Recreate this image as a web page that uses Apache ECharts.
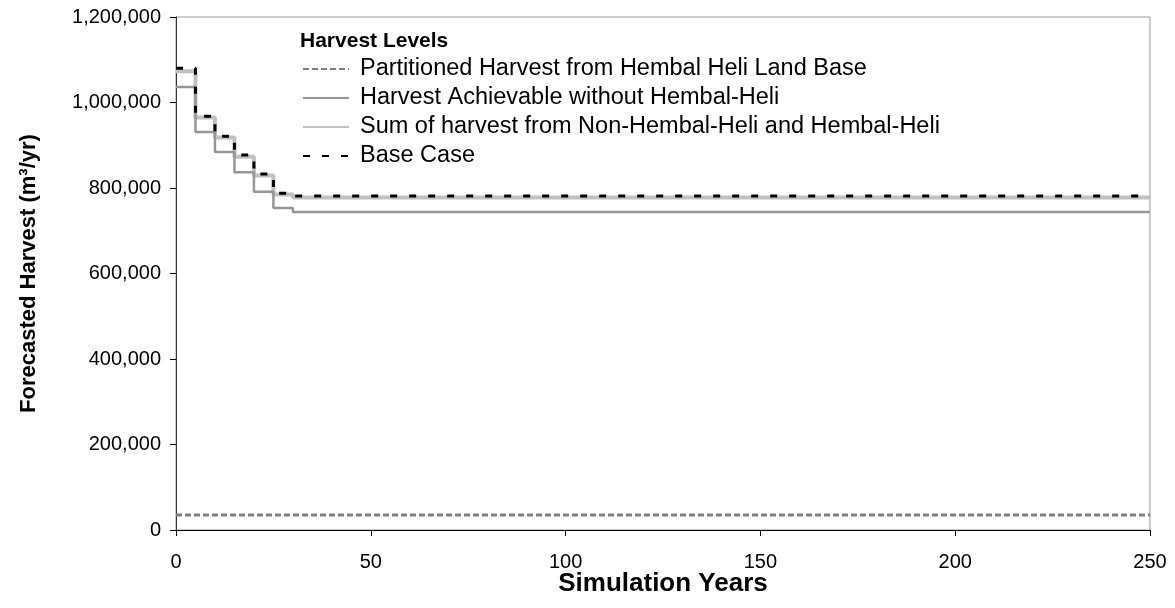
<!DOCTYPE html>
<html>
<head>
<meta charset="utf-8">
<script src="https://cdn.jsdelivr.net/npm/echarts@6/dist/echarts.min.js"></script>
<style>
html,body{margin:0;padding:0;background:#fff;}
#chart{width:1175px;height:608px;}
</style>
</head>
<body>
<div id="chart"></div>
<script>
// Simulation years at which the harvest level changes
const years = [0, 5, 10, 15, 20, 25, 30, 250];
// Harvest levels (m3/yr)
const partitioned = [35000, 35000, 35000, 35000, 35000, 35000, 35000, 35000];
const achievable = [1036000, 931000, 884000, 837000, 791000, 753000, 744000, 744000];
const sumHarvest = [1073000, 965000, 918000, 873000, 829000, 785000, 778000, 778000];
const baseCase = [1080000, 968000, 921000, 877000, 833000, 788000, 781000, 781000];
const seriesNames = [
  'Partitioned Harvest from Hembal Heli Land Base',
  'Harvest Achievable without Hembal-Heli',
  'Sum of harvest from Non-Hembal-Heli and Hembal-Heli',
  'Base Case'
];
const xTicks = [0, 50, 100, 150, 200, 250];
const yTicks = [0, 200000, 400000, 600000, 800000, 1000000, 1200000];

function pairs(vals){ return years.map((y,i)=>[y, vals[i]]); }
const FONT = '"Liberation Sans", Arial, sans-serif';

const chart = echarts.init(document.getElementById('chart'), null, {renderer:'canvas'});
chart.setOption({
  animation:false,
  backgroundColor:'#fff',
  title:{
    text:'Harvest Levels', left:295, top:26,
    textStyle:{fontFamily:FONT, fontWeight:'bold', fontSize:21, color:'#000'}
  },
  legend:{
    orient:'vertical', left:297, top:52,
    itemWidth:46, itemHeight:14, itemGap:5,
    data: seriesNames,
    itemStyle:{opacity:0, color:'rgba(0,0,0,0)', borderWidth:0},
    textStyle:{fontFamily:FONT, fontSize:23.5, lineHeight:24, color:'#000', padding:[0,0,0,6]}
  },
  grid:{left:176, right:25, top:17, bottom:78, show:true, borderColor:'#999', borderWidth:1},
  xAxis:{
    type:'value', min:xTicks[0], max:xTicks[xTicks.length-1], interval:50,
    name:'Simulation Years', nameLocation:'middle', nameGap:41, nameMoveOverlap:false,
    nameTextStyle:{fontFamily:FONT, fontWeight:'bold', fontSize:26, color:'#000'},
    axisLine:{lineStyle:{color:'#000', width:1}},
    axisTick:{show:true, length:6, lineStyle:{color:'#000'}},
    axisLabel:{fontFamily:FONT, fontSize:20, color:'#000', margin:22},
    splitLine:{show:false}
  },
  yAxis:{
    type:'value', min:yTicks[0], max:yTicks[yTicks.length-1], interval:200000,
    name:'Forecasted Harvest (m³/yr)', nameLocation:'middle', nameGap:136, nameMoveOverlap:false,
    nameTextStyle:{fontFamily:FONT, fontWeight:'bold', fontSize:22, color:'#000'},
    axisLine:{show:true, lineStyle:{color:'#333', width:1}},
    axisTick:{show:true, length:6, lineStyle:{color:'#000'}},
    axisLabel:{fontFamily:FONT, fontSize:20, color:'#000', margin:15,
      formatter:v=>v.toLocaleString('en-US')},
    splitLine:{show:false}
  },
  series:[
    {name:seriesNames[2], type:'line', step:'end', symbol:'none', z:2,
     data:pairs(sumHarvest), lineStyle:{color:'#c0c0c0', width:4}, itemStyle:{color:'#c0c0c0'}},
    {name:seriesNames[1], type:'line', step:'end', symbol:'none', z:3,
     data:pairs(achievable), lineStyle:{color:'#969696', width:2.5}, itemStyle:{color:'#969696'}},
    {name:seriesNames[0], type:'line', step:'end', symbol:'none', z:4,
     data:pairs(partitioned), lineStyle:{color:'#808080', width:3, type:[6,3]}, itemStyle:{color:'#808080'}},
    {name:seriesNames[3], type:'line', step:'end', symbol:'none', z:5,
     data:pairs(baseCase), lineStyle:{color:'#000', width:3, type:[7,12]}, itemStyle:{color:'#000'}}
  ]
});
</script>
</body>
</html>
